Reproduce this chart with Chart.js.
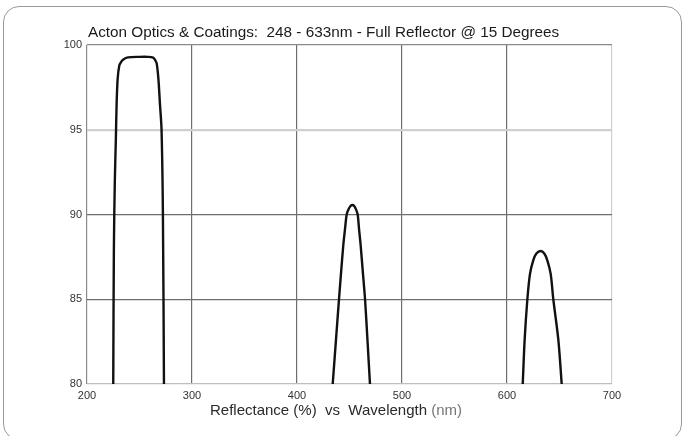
<!DOCTYPE html>
<html>
<head>
<meta charset="utf-8">
<script src="https://cdn.jsdelivr.net/npm/chart.js@4"></script>
<style>
    html, body { margin: 0; padding: 0; background: #fff; }
    #wrap { position: relative; width: 683px; height: 436px; overflow: hidden; }
    #frame {
        position: absolute; left: 3px; top: 6px; width: 677px; height: 432px;
        border: 1.5px solid #9a9a9a; border-radius: 16px;
    }
    #chart { position: absolute; left: 0; top: 0; }
</style>
</head>
<body>
<div id="wrap">
    <div id="frame"></div>
    <canvas id="chart" width="683" height="436"></canvas>
</div>
<script>
// Данные: три полосы отражения

const band1Wl = [225, 225.6, 226.5, 227.5, 228.2, 229.2, 230.8, 232.5, 234.6, 239, 250, 258, 263, 265, 266.4, 268, 269.5, 271, 272.3, 273.3];
const band1R  = [80, 88, 92, 94.5, 96.5, 98, 98.8, 99.0, 99.15, 99.27, 99.3, 99.3, 99.25, 99.1, 98.9, 98, 96.5, 95, 90, 80];

const band2Wl = [434, 437, 440, 442, 444.1, 446, 447.3, 449, 451, 452.7, 454.5, 456.2, 457.8, 459, 460.6, 462.7, 464.8, 467.2, 469.5];
const band2R  = [80, 82.5, 85, 86.6, 88.2, 89.3, 90, 90.3, 90.5, 90.56, 90.5, 90.3, 90, 89.2, 88.2, 86.6, 85, 82.5, 80];

const band3Wl = [615, 616.8, 619.4, 621.9, 625, 628, 632.1, 635.5, 638.4, 641.6, 644.1, 648.9, 652.1];
const band3R  = [80, 82.6, 85, 86.5, 87.3, 87.7, 87.85, 87.7, 87.3, 86.5, 85, 82.6, 80];

const xTicks = [200, 300, 400, 500, 600, 700];
const yTicks = [80, 85, 90, 95, 100];

const titleText = 'Acton Optics & Coatings:  248 - 633nm - Full Reflector @ 15 Degrees';

function toPoints(xs, ys) {
    return xs.map((x, i) => ({ x: x, y: ys[i] }));
}

function bandDataset(xs, ys) {
    return {
        data: toPoints(xs, ys),
        borderColor: '#111',
        borderWidth: 2.4,
        pointRadius: 0,
        tension: 0.3,
        fill: false,
    };
}

// Подписи: заголовок и подпись оси X
const textPlugin = {
    id: 'texts',
    afterDraw(chart) {
        const ctx = chart.ctx;
        const area = chart.chartArea;
        ctx.save();
        ctx.textBaseline = 'middle';
        ctx.textAlign = 'left';
        ctx.fillStyle = '#1a1a1a';
        ctx.font = '15.3px "Liberation Sans", Arial, sans-serif';
        ctx.fillText(titleText, area.left + 1, 33);

        ctx.font = '15px "Liberation Sans", Arial, sans-serif';
        const a = 'Reflectance (%)  vs  Wavelength';
        const b = ' (nm)';
        const wa = ctx.measureText(a).width;
        const wb = ctx.measureText(b).width;
        const cx = 336;
        let x0 = cx - (wa + wb) / 2;
        ctx.fillStyle = '#2a2a2a';
        ctx.fillText(a, x0, 411);
        ctx.fillStyle = '#777';
        ctx.fillText(b, x0 + wa, 411);
        ctx.restore();
    }
};

const yGridColor = (c) => {
    const v = c.tick && c.tick.value;
    if (v === 95) return '#cfcfcf';
    if (v === 80) return '#bdbdbd';
    if (v === 100) return '#8a8a8a';
    return '#6e6e6e';
};
const yGridWidth = (c) => (c.tick && c.tick.value === 95) ? 2.2 : 1.2;
const xGridColor = (c) => {
    const v = c.tick && c.tick.value;
    if (v === 700) return '#cfcfcf';
    if (v === 200) return '#8a8a8a';
    return '#6e6e6e';
};

new Chart(document.getElementById('chart'), {
    type: 'line',
    data: {
        datasets: [
            bandDataset(band1Wl, band1R),
            bandDataset(band2Wl, band2R),
            bandDataset(band3Wl, band3R),
        ]
    },
    options: {
        responsive: false,
        animation: false,
        layout: { padding: { top: 45, right: 71, left: 0, bottom: 0 } },
        plugins: {
            legend: { display: false },
            tooltip: { enabled: false },
            title: { display: false },
        },
        scales: {
            x: {
                type: 'linear',
                min: 200,
                max: 700,
                afterBuildTicks(scale) { scale.ticks = xTicks.map(v => ({ value: v })); },
                afterFit(scale) { scale.height = 52; },
                grid: { color: xGridColor, lineWidth: 1.2, drawTicks: false },
                border: { display: false },
                ticks: {
                    color: '#333',
                    padding: 5,
                    maxRotation: 0,
                    font: { family: '"Liberation Sans", Arial, sans-serif', size: 11 },
                },
            },
            y: {
                type: 'linear',
                min: 80,
                max: 100,
                afterBuildTicks(scale) { scale.ticks = yTicks.map(v => ({ value: v })); },
                afterFit(scale) { scale.width = 87; },
                grid: { color: yGridColor, lineWidth: yGridWidth, drawTicks: false },
                border: { display: false },
                ticks: {
                    color: '#333',
                    padding: 5,
                    font: { family: '"Liberation Sans", Arial, sans-serif', size: 11 },
                },
            },
        },
    },
    plugins: [textPlugin],
});
</script>
</body>
</html>
